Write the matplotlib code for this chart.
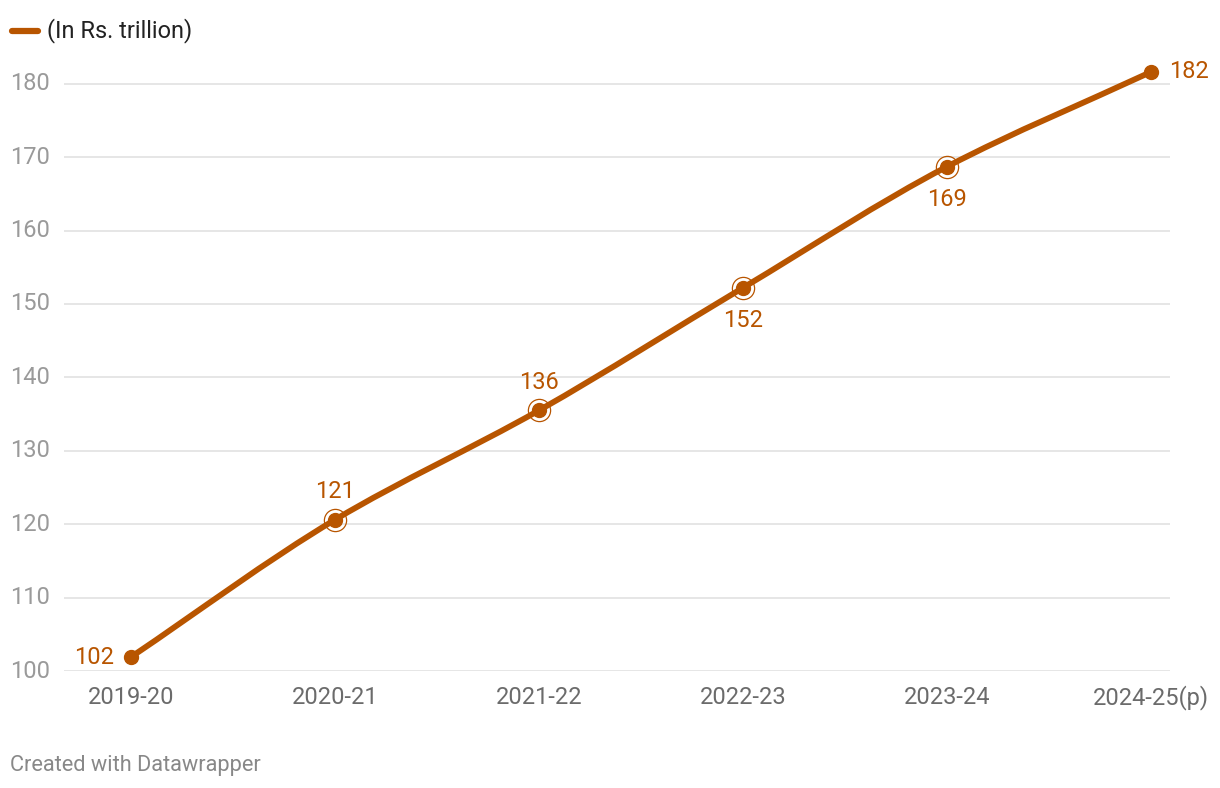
import matplotlib as mpl
mpl.use('Agg')
import matplotlib.pyplot as plt
from matplotlib.path import Path
from matplotlib.patches import PathPatch
import numpy as np

plt.rcParams['font.family'] = ['Roboto', 'DejaVu Sans']

years = ['2019-20', '2020-21', '2021-22', '2022-23', '2023-24', '2024-25(p)']
values = [101.9, 120.6, 135.5, 152.2, 168.7, 181.6]
labels = ['102', '121', '136', '152', '169', '182']
y_ticks = [100, 110, 120, 130, 140, 150, 160, 170, 180]
series_name = '(In Rs. trillion)'

orange = '#b85500'
grid_c = '#e2e2e2'


def monotone_path(x, y):
    # monotone cubic (Fritsch-Carlson) as bezier segments
    x = np.asarray(x, float)
    y = np.asarray(y, float)
    h = np.diff(x)
    d = np.diff(y) / h
    m = np.zeros_like(y)
    m[0], m[-1] = d[0], d[-1]
    for i in range(1, len(y) - 1):
        if d[i - 1] * d[i] <= 0:
            m[i] = 0
        else:
            m[i] = 2 / (1 / d[i - 1] + 1 / d[i])
    verts = [(x[0], y[0])]
    codes = [Path.MOVETO]
    for i in range(len(x) - 1):
        verts += [(x[i] + h[i] / 3, y[i] + m[i] * h[i] / 3),
                  (x[i + 1] - h[i] / 3, y[i + 1] - m[i + 1] * h[i] / 3),
                  (x[i + 1], y[i + 1])]
        codes += [Path.CURVE4] * 3
    return Path(verts, codes)


fig = plt.figure(figsize=(12.2, 7.88), dpi=100)
ax = fig.add_axes([64 / 1220, 117 / 788, 1106 / 1220, 602 / 788])
ax.set_xlim(-0.328, 5.093)
ax.set_ylim(100, 182)
ax.axis('off')

xs = np.arange(len(years))
fs = 17

for t in y_ticks:
    ax.axhline(t, color=grid_c, lw=1.2, zorder=1)
    ax.text(10 / 1220, t, str(t), transform=mpl.transforms.blended_transform_factory(fig.transFigure, ax.transData),
            ha='left', va='center', fontsize=fs, color='#9a9a9a')

for i, yr in enumerate(years):
    ha = 'center'
    xi = i
    if i == len(years) - 1:
        ha = 'right'
        xi = 5.093 + 0.19
    ax.text(xi, 96.4, yr, ha=ha, va='center', fontsize=fs, color='#6b6b6b', clip_on=False)

ax.add_patch(PathPatch(monotone_path(xs, values), fc='none', ec=orange, lw=4.2,
                       capstyle='round', zorder=3, clip_on=False))
ax.plot(xs, values, 'o', color=orange, ms=10, zorder=4, clip_on=False)
ax.plot(xs[1:-1], values[1:-1], 'o', mfc='none', mec=orange, mew=0.9, ms=16, zorder=4)

offsets = [(-17, 0, 'right', 'center'), (0, 28, 'center', 'center'), (0, 28, 'center', 'center'),
           (0, -33, 'center', 'center'), (0, -33, 'center', 'center'), (18, 0, 'left', 'center')]
for i, (lab, (dx, dy, ha, va)) in enumerate(zip(labels, offsets)):
    ax.annotate(lab, (xs[i], values[i]), xytext=(dx * 0.72, dy * 0.72), textcoords='offset points',
                ha=ha, va=va, fontsize=fs, color=orange, annotation_clip=False)

# legend
fig.add_artist(plt.Line2D([12 / 1220, 38 / 1220], [1 - 31 / 788] * 2, color=orange, lw=4.5,
                          solid_capstyle='round', transform=fig.transFigure))
fig.text(47 / 1220, 1 - 31 / 788, series_name, ha='left', va='center', fontsize=fs, color='#222222')

fig.text(10 / 1220, 1 - 765 / 788, 'Created with Datawrapper', ha='left', va='center',
         fontsize=15.7, color='#888888')

fig.savefig('out.png', dpi=100, facecolor='white')
